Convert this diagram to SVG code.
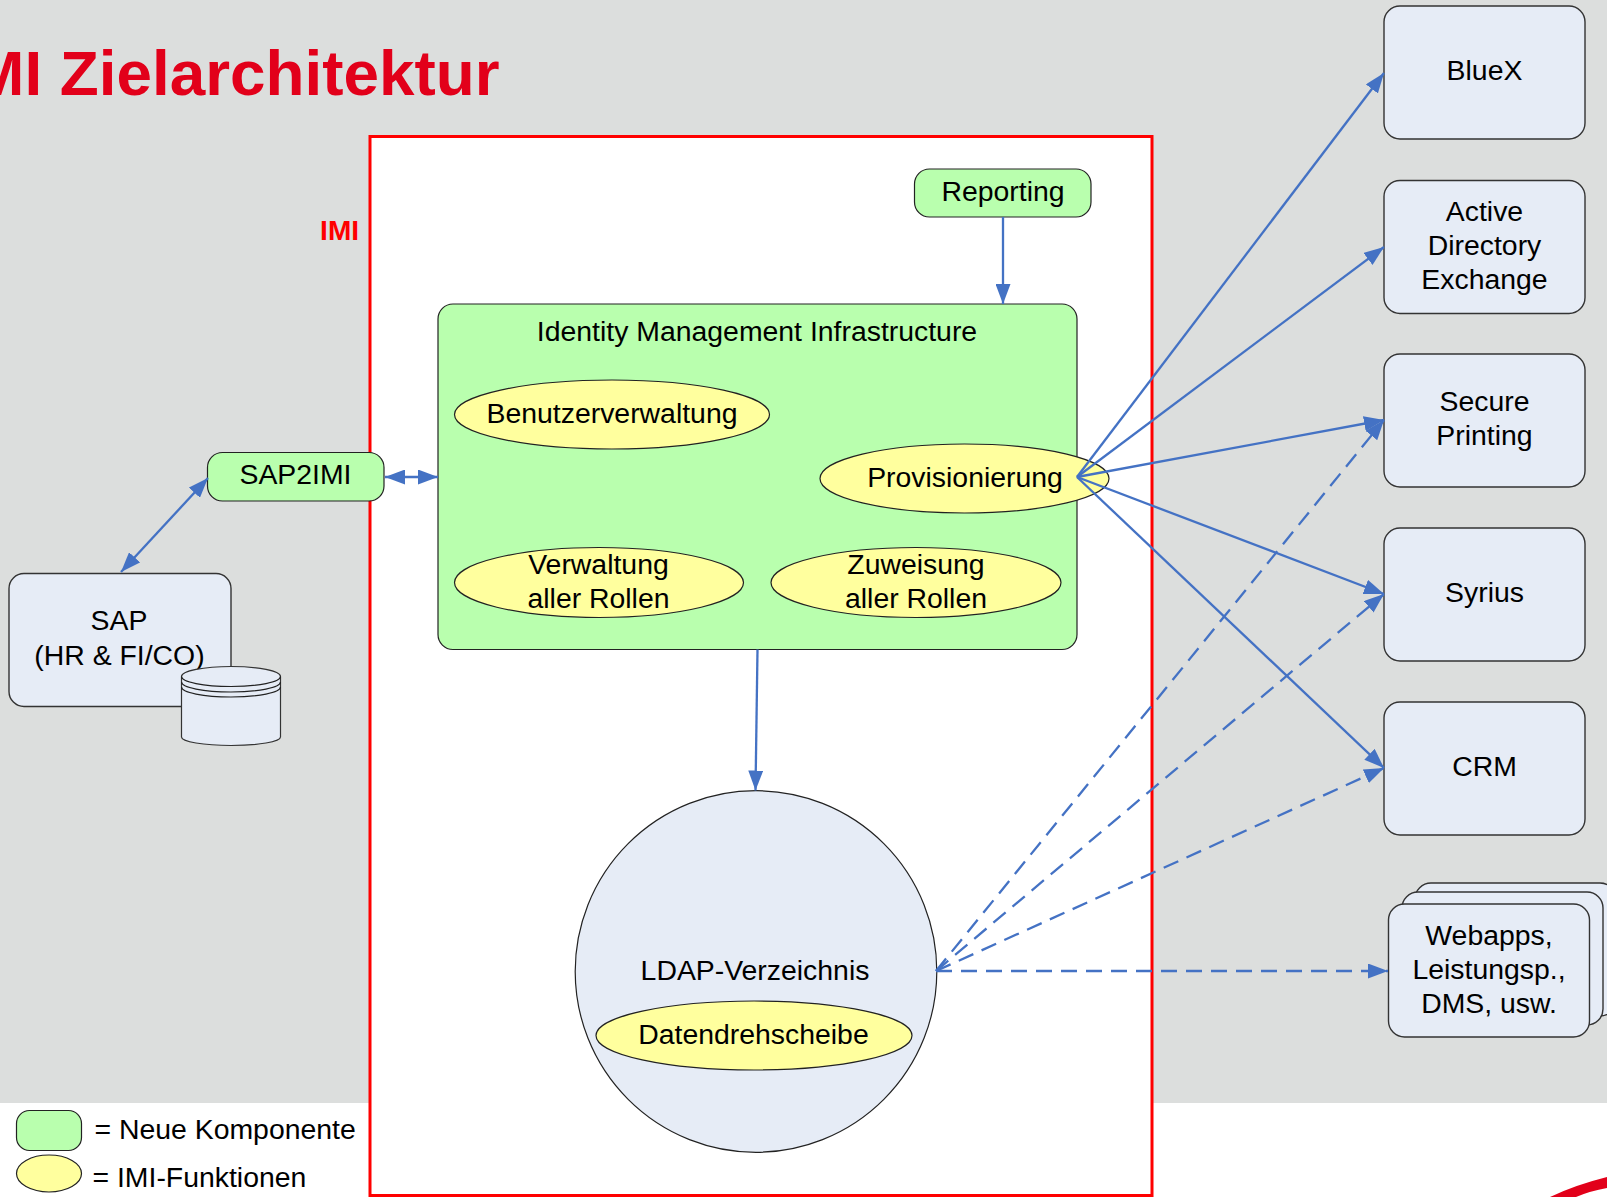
<svg xmlns="http://www.w3.org/2000/svg" width="1607" height="1197" viewBox="0 0 1607 1197">
<style>
text{font-family:"Liberation Sans",Arial,sans-serif;font-size:28.4px;fill:#000;text-anchor:middle}
.box{fill:#E6ECF6;stroke:#333;stroke-width:1.4}
.grn{fill:#B9FFAE;stroke:#222;stroke-width:1.2}
.yel{fill:#FFFF9E;stroke:#222;stroke-width:1.2}
.c{fill:none;stroke:#4472C4;stroke-width:2.3}
.d{stroke-dasharray:16 9}
.l{text-anchor:start}
</style>
<defs>
<marker id="e" markerUnits="userSpaceOnUse" markerWidth="20" markerHeight="15" refX="20" refY="7.500" orient="auto"><path d="M0 0L20 7.500L0 15z" fill="#4472C4"/></marker>
<marker id="s" markerUnits="userSpaceOnUse" markerWidth="20" markerHeight="15" refX="0" refY="7.500" orient="auto"><path d="M20 0L0 7.500L20 15z" fill="#4472C4"/></marker>
</defs>
<rect id="background" x="0" y="0" width="1607" height="1103" fill="#DCDEDD"/>
<path id="swoosh" d="M1550 1197Q1575 1185 1607 1177L1607 1188Q1590 1191 1576 1197z" fill="#E2001A"/>
<text id="title" x="499.500" y="95" style="font-size:63.8px;font-weight:bold;fill:#E2001A;text-anchor:end">IMI Zielarchitektur</text>
<g id="imi">
<rect x="370" y="136.500" width="782" height="1059" fill="#fff" stroke="#f00" stroke-width="3"/>
<text x="359" y="240" style="font-weight:bold;fill:#f00;text-anchor:end;font-size:28px">IMI</text>
</g>
<g id="reporting"><rect class="grn" x="914.500" y="169" width="176.500" height="48" rx="15"/><text x="1003" y="201">Reporting</text></g>
<g id="infrastructure"><rect class="grn" x="438" y="304" width="639" height="345.500" rx="15"/><text x="757" y="341">Identity Management Infrastructure</text></g>
<g id="benutzerverwaltung"><ellipse class="yel" cx="612" cy="414.500" rx="157.500" ry="34.500"/><text x="612" y="423">Benutzerverwaltung</text></g>
<g id="provisionierung"><ellipse class="yel" cx="964.500" cy="478.500" rx="144.500" ry="34.500"/><text x="965" y="487">Provisionierung</text></g>
<g id="verwaltung"><ellipse class="yel" cx="599" cy="582.500" rx="144.500" ry="35"/><text x="598.500" y="574">Verwaltung</text><text x="598.500" y="608">aller Rollen</text></g>
<g id="zuweisung"><ellipse class="yel" cx="916" cy="582.500" rx="145" ry="35"/><text x="916" y="574">Zuweisung</text><text x="916" y="608">aller Rollen</text></g>
<g id="sap2imi"><rect class="grn" x="207.500" y="452.500" width="176.500" height="48.500" rx="15"/><text x="295.500" y="484">SAP2IMI</text></g>
<g id="sap"><rect class="box" x="9" y="573.500" width="222" height="133" rx="15"/><text x="119" y="629.500">SAP</text><text x="119.500" y="665">(HR &amp; FI/CO)</text></g>
<g id="sap-db">
<path class="box" d="M181.500 676.500A49.500 10 0 0 1 280.500 676.500V737A49.500 8.500 0 0 1 181.500 737z" stroke="#222" style="stroke-width:1.2"/>
<path d="M181.500 676.500A49.500 10 0 0 0 280.500 676.500M181.500 682A49.500 10 0 0 0 280.500 682M181.500 687A49.500 10 0 0 0 280.500 687" fill="none" stroke="#222" stroke-width="1.2"/>
</g>
<g id="ldap"><circle cx="756" cy="971.500" r="180.800" fill="#E6ECF6" stroke="#222" stroke-width="1.2"/><text x="755" y="979.500">LDAP-Verzeichnis</text></g>
<g id="datendrehscheibe"><ellipse class="yel" cx="754" cy="1035.500" rx="158" ry="34.500"/><text x="753.500" y="1044">Datendrehscheibe</text></g>
<g id="bluex"><rect class="box" x="1384" y="6" width="201" height="133" rx="16"/><text x="1484.500" y="80">BlueX</text></g>
<g id="active"><rect class="box" x="1384" y="180.500" width="201" height="133" rx="16"/><text x="1484.500" y="220.500">Active</text><text x="1484.500" y="254.500">Directory</text><text x="1484.500" y="289">Exchange</text></g>
<g id="secure"><rect class="box" x="1384" y="354" width="201" height="133" rx="16"/><text x="1484.500" y="410.500">Secure</text><text x="1484.500" y="444.500">Printing</text></g>
<g id="syrius"><rect class="box" x="1384" y="528" width="201" height="133" rx="16"/><text x="1484.500" y="602">Syrius</text></g>
<g id="crm"><rect class="box" x="1384" y="702" width="201" height="133" rx="16"/><text x="1484.500" y="776">CRM</text></g>
<g id="webapps">
<rect class="box" x="1415" y="883" width="201" height="133" rx="16"/>
<rect class="box" x="1402" y="892" width="201" height="133" rx="16"/>
<rect class="box" x="1388.500" y="904" width="201" height="133" rx="16"/>
<text x="1489" y="945">Webapps,</text><text x="1489" y="979">Leistungsp.,</text><text x="1489" y="1013">DMS, usw.</text>
</g>
<g id="legend">
<rect class="grn" x="16.500" y="1110.500" width="65" height="40" rx="13"/>
<text class="l" x="94.500" y="1139">= Neue Komponente</text>
<ellipse class="yel" cx="49" cy="1173.500" rx="32.500" ry="18.500"/>
<text class="l" x="92.500" y="1187">= IMI-Funktionen</text>
</g>
<g id="connectors">
<line class="c" x1="1003" y1="217" x2="1003" y2="304" marker-end="url(#e)"/>
<line class="c" x1="757.500" y1="649.500" x2="755.500" y2="790.500" marker-end="url(#e)"/>
<line class="c" x1="121" y1="572" x2="208" y2="478" marker-start="url(#s)" marker-end="url(#e)"/>
<line class="c" x1="385" y1="477" x2="438" y2="477" marker-start="url(#s)" marker-end="url(#e)"/>
<line class="c" x1="1077" y1="477" x2="1384" y2="73" marker-end="url(#e)"/>
<line class="c" x1="1077" y1="477" x2="1384" y2="247" marker-end="url(#e)"/>
<line class="c" x1="1077" y1="477" x2="1384" y2="420" marker-end="url(#e)"/>
<line class="c" x1="1077" y1="477" x2="1384" y2="594" marker-end="url(#e)"/>
<line class="c" x1="1077" y1="477" x2="1384" y2="768" marker-end="url(#e)"/>
<line class="c d" x1="936" y1="971" x2="1384" y2="420" marker-end="url(#e)"/>
<line class="c d" x1="936" y1="971" x2="1384" y2="594" marker-end="url(#e)"/>
<line class="c d" x1="936" y1="971" x2="1384" y2="768" marker-end="url(#e)"/>
<line class="c d" x1="936" y1="971" x2="1388" y2="971" marker-end="url(#e)"/>
</g>
</svg>
